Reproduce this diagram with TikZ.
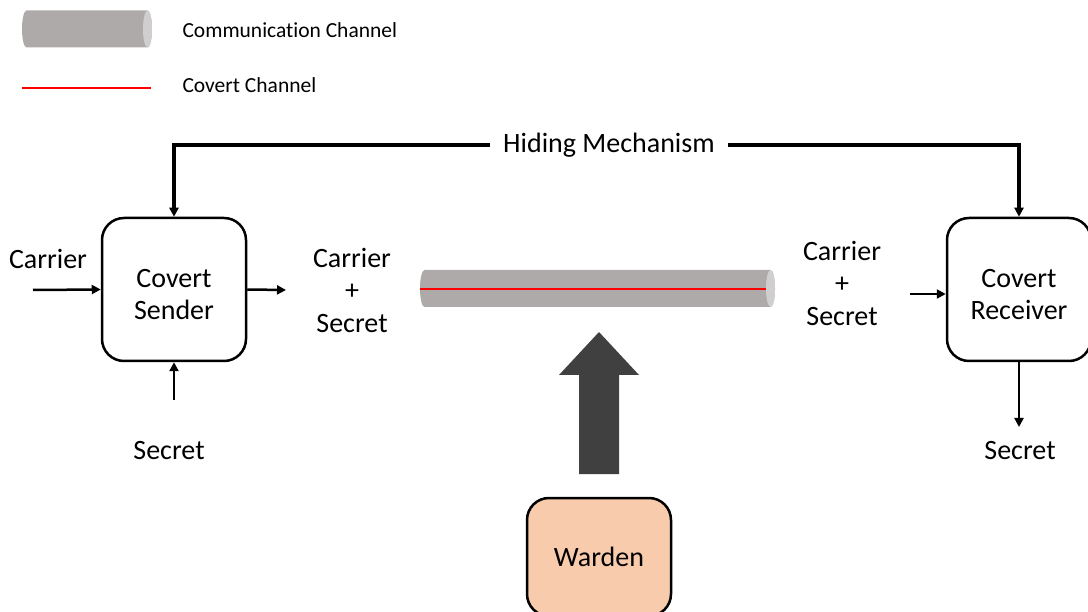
\documentclass[tikz,border=0pt]{standalone}
\usepackage{fontspec}
\setmainfont{Carlito}[Ligatures=NoCommon]
\usetikzlibrary{arrows.meta,positioning}
\definecolor{pipegray}{HTML}{AEAAAA}
\definecolor{pipeend}{HTML}{D0CECE}
\definecolor{wardenfill}{HTML}{F8CBAD}
\definecolor{bigarrow}{HTML}{404040}
\tikzstyle{party} = [rectangle,draw,rounded corners=22pt,line width=2.5pt,minimum height=143pt,minimum width=144pt,align=center]
\tikzstyle{flow} = [line width=2.5pt,-{Triangle[length=9pt,width=9pt]}]
\tikzstyle{every node}=[font=\fontsize{28}{32.5}\selectfont]
\tikzstyle{legend} = [anchor=west,font=\fontsize{21.5}{24}\selectfont]
% pipe from x #1 to x #2, axis at y #3
\newcommand{\drawpipe}[3]{%
	\fill[pipegray] (#1+4.5,#3-18.5) -- (#2-4.5,#3-18.5)
		arc[start angle=90,end angle=-90,x radius=4.5pt,y radius=18.5pt]
		-- (#1+4.5,#3+18.5)
		arc[start angle=270,end angle=90,x radius=4.5pt,y radius=18.5pt] -- cycle;
	\fill[pipeend] (#2-4.5,#3) ellipse[x radius=4.5pt,y radius=18.5pt];}
\newcommand{\topgap}{\rule{0pt}{28pt}}

\begin{document}
\begin{tikzpicture}[x=1pt,y=-1pt]
	\useasboundingbox (0,0) rectangle (1088,612);
	% legend
	\drawpipe{22}{152}{29}
	\node[legend] (legpipet) at (179,30) {Communication Channel};
	\coordinate (legred1) at (22,88);
	\coordinate (legred2) at (151,88);
	\draw[red,line width=2pt] (legred1) -- (legred2);
	\node[legend] (legredt) at (179,85) {Covert Channel};
	% parties
	\node[party] (S) at (174,289.5) {\topgap Covert\\Sender};
	\node[party] (R) at (1019,289.5) {\topgap Covert\\Receiver};
	\node[party,fill=wardenfill,minimum height=118pt] (W) at (599,557) {Warden};
	% hiding mechanism
	\node[inner xsep=13pt] (hm) at (609,145) {Hiding Mechanism};
	\draw[flow,line width=3.2pt] (hm.west) -| (S.north);
	\draw[flow,line width=3.2pt] (hm.east) -| (R.north);
	% sender side
	\node (cin) at (48,259) {Carrier};
	\coordinate (cinst) at (33,290);
	\draw[flow] (cinst) -- (S.west);
	\node (sin) at (169,451) {Secret};
	\coordinate (sinst) at (174,400);
	\draw[flow] (sinst) -- (S.south);
	\coordinate (sout) at (286,290);
	\draw[flow] (S.east) -- (sout);
	\node[align=center] (m1) at (352,290) {Carrier\\+\\Secret};
	% channel
	\drawpipe{420}{775}{288.5}
	\coordinate (red1) at (420,289);
	\coordinate (red2) at (766,289);
	\draw[red,line width=2.2pt] (red1) -- (red2);
	% receiver side
	\node[align=center] (m2) at (842,283) {Carrier\\+\\Secret};
	\coordinate (rin) at (910,294);
	\draw[flow] (rin) -- (R.west|-rin);
	\coordinate (rout) at (1019,427);
	\draw[flow] (R.south) -- (rout);
	\node (sout2) at (1020,451) {Secret};
	% warden watching
	\fill[bigarrow] (579,474) -- (619,474) -- (619,375) -- (639,375) -- (599,332) -- (559,375) -- (579,375) -- cycle;
\end{tikzpicture}
\end{document}
